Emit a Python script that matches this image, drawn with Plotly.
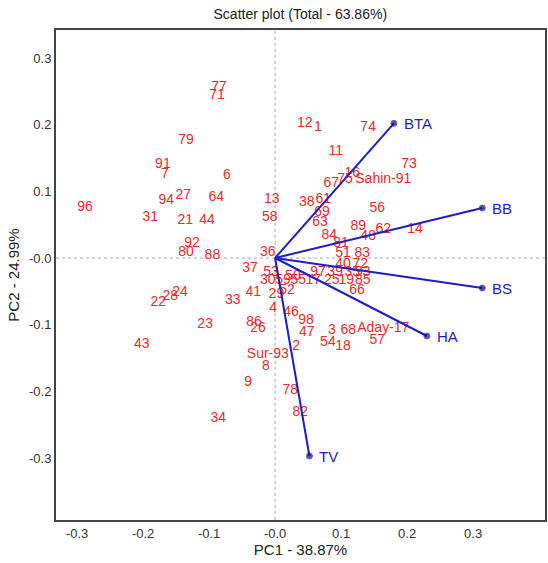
import plotly.graph_objects as go

# Genotype scores (PC1, PC2) with labels
genotypes = ["77", "71", "79", "91", "7", "6", "96", "94", "27", "64",
             "31", "21", "44", "13", "58", "12", "1", "74", "11", "73",
             "16", "Sahin-91", "67", "75", "38", "61", "69", "63", "84", "56",
             "89", "62", "48", "14", "81", "51", "83", "40", "72", "88",
             "92", "80", "36", "37", "33", "41", "23", "29", "52", "4",
             "46", "98", "47", "86", "26", "Sur-93", "2", "8", "3", "68",
             "Aday-17", "57", "54", "18", "78", "82", "9", "34", "43", "22",
             "28", "24", "53", "97", "39", "35", "93", "30", "59", "55",
             "17", "25", "19", "85", "66", "50"]
pc1 = [-0.085, -0.088, -0.135, -0.170, -0.167, -0.073, -0.288, -0.165, -0.139, -0.089,
       -0.189, -0.136, -0.103, -0.005, -0.008, 0.045, 0.065, 0.141, 0.092, 0.203,
       0.117, 0.164, 0.085, 0.106, 0.048, 0.073, 0.071, 0.068, 0.082, 0.155,
       0.126, 0.164, 0.141, 0.212, 0.100, 0.103, 0.132, 0.103, 0.129, -0.095,
       -0.126, -0.135, -0.011, -0.038, -0.064, -0.033, -0.106, 0.002, 0.018, -0.003,
       0.024, 0.047, 0.048, -0.032, -0.026, -0.011, 0.032, -0.014, 0.086, 0.111,
       0.164, 0.155, 0.080, 0.103, 0.023, 0.038, -0.041, -0.086, -0.202, -0.177,
       -0.159, -0.144, -0.006, 0.065, 0.091, 0.117, 0.133, -0.011, 0.012, 0.035,
       0.058, 0.086, 0.108, 0.133, 0.124, 0.027]
pc2 = [0.256, 0.244, 0.177, 0.141, 0.126, 0.124, 0.076, 0.087, 0.094, 0.091,
       0.061, 0.057, 0.057, 0.088, 0.061, 0.202, 0.196, 0.196, 0.160, 0.141,
       0.127, 0.118, 0.112, 0.118, 0.084, 0.088, 0.069, 0.054, 0.034, 0.075,
       0.048, 0.043, 0.033, 0.043, 0.022, 0.007, 0.007, -0.009, -0.009, 0.004,
       0.022, 0.009, 0.009, -0.016, -0.064, -0.052, -0.100, -0.054, -0.049, -0.076,
       -0.082, -0.093, -0.111, -0.096, -0.105, -0.145, -0.132, -0.162, -0.108, -0.108,
       -0.106, -0.123, -0.127, -0.132, -0.198, -0.231, -0.187, -0.241, -0.129, -0.066,
       -0.057, -0.051, -0.021, -0.021, -0.021, -0.021, -0.021, -0.033, -0.033, -0.033,
       -0.033, -0.033, -0.033, -0.033, -0.048, -0.027]

# Trait loading vectors
traits = ["BTA", "BB", "BS", "HA", "TV"]
load1 = [0.180, 0.314, 0.314, 0.230, 0.052]
load2 = [0.202, 0.075, -0.045, -0.117, -0.297]

tick_vals_x = [-0.3, -0.2, -0.1, 0.0, 0.1, 0.2, 0.3, 0.4]
tick_text_x = ["-0.3", "-0.2", "-0.1", "-0.0", "0.1", "0.2", "0.3", "0.4"]
tick_vals_y = [0.3, 0.2, 0.1, 0.0, -0.1, -0.2, -0.3]
tick_text_y = ["0.3", "0.2", "0.1", "-0.0", "-0.1", "-0.2", "-0.3"]

RED = "#ec2a2a"
BLUE = "#1e1ec8"
FONT = "Liberation Sans, Arial, sans-serif"

fig = go.Figure()

fig.add_trace(go.Scatter(
    x=pc1, y=pc2, text=genotypes, mode="text",
    textposition="middle center",
    textfont=dict(family=FONT, size=14, color=RED),
    showlegend=False, hoverinfo="text"))

for name, a, b in zip(traits, load1, load2):
    fig.add_trace(go.Scatter(
        x=[0, a], y=[0, b], mode="lines+markers",
        line=dict(color=BLUE, width=2),
        marker=dict(size=[0, 6], color="#101060"),
        showlegend=False, hoverinfo="skip"))
    fig.add_annotation(x=a, y=b, text=name, showarrow=False,
                       xanchor="left", yanchor="middle", xshift=8,
                       font=dict(family=FONT, size=15, color=BLUE))

# dotted reference lines at zero
fig.add_shape(type="line", xref="x", yref="paper", x0=0, x1=0, y0=0, y1=1,
              line=dict(color="#aaaaaa", width=1, dash="dot"), layer="below")
fig.add_shape(type="line", xref="paper", yref="y", x0=0, x1=1, y0=0, y1=0,
              line=dict(color="#aaaaaa", width=1, dash="dot"), layer="below")

axis_common = dict(showgrid=False, zeroline=False, showline=True, mirror=True,
                   linecolor="#444444", linewidth=2, ticks="",
                   tickfont=dict(family=FONT, size=13, color="#333333"),
                   automargin=False)

fig.update_layout(
    width=548, height=563,
    margin=dict(l=56, r=3, t=30, b=43),
    paper_bgcolor="white", plot_bgcolor="white",
    title=dict(text="Scatter plot (Total - 63.86%)", x=0.548, xanchor="center",
               y=0.975, yanchor="middle",
               font=dict(family=FONT, size=14, color="#222222")),
    xaxis=dict(range=[-0.332, 0.409], tickvals=tick_vals_x, ticktext=tick_text_x,
               title=dict(text="PC1 - 38.87%", standoff=2,
                          font=dict(family=FONT, size=15, color="#222222")),
               **axis_common),
    yaxis=dict(range=[-0.393, 0.342], tickvals=tick_vals_y, ticktext=tick_text_y,
               title=dict(text="PC2 - 24.99%", standoff=6,
                          font=dict(family=FONT, size=15, color="#222222")),
               **axis_common),
)

fig.write_html("out.html")
